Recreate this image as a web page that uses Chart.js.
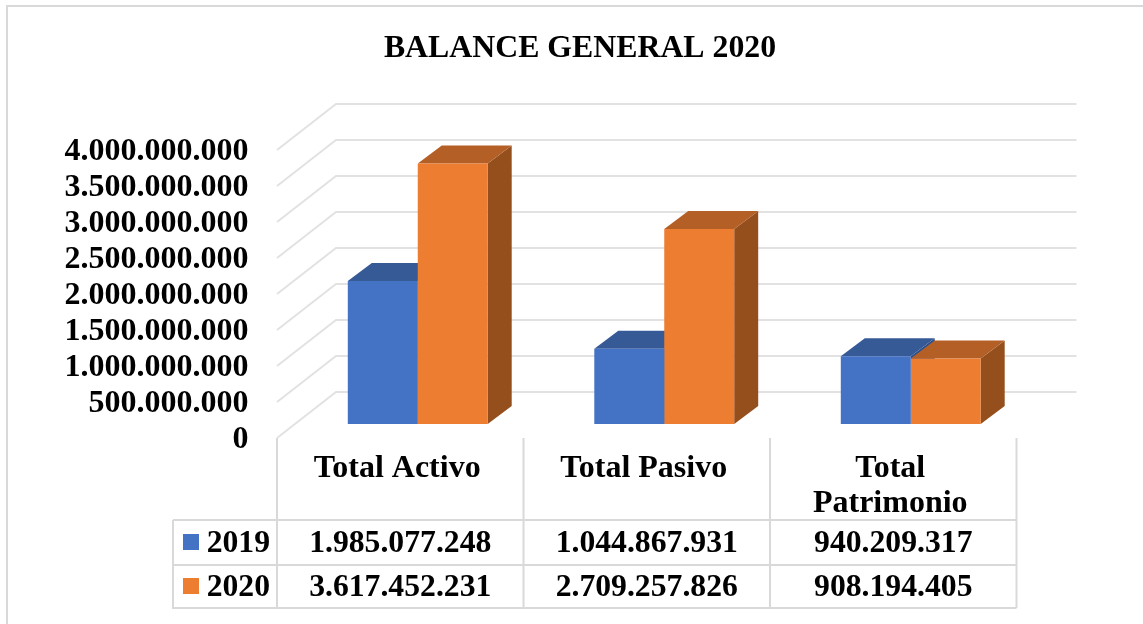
<!DOCTYPE html>
<html><head><meta charset="utf-8">
<style>html,body{margin:0;padding:0;background:#fff}canvas{display:block}</style>
<script src="https://cdn.jsdelivr.net/npm/chart.js@4"></script>
</head><body><canvas id="c" width="1143" height="624"></canvas>
<script>
const titleText = 'BALANCE GENERAL 2020';
const categories = [['Total Activo'], ['Total Pasivo'], ['Total', 'Patrimonio']];
const seriesNames = ['2019', '2020'];
const values2019 = [1985077248, 1044867931, 940209317];
const values2020 = [3617452231, 2709257826, 908194405];
const colors = ['#4472C4', '#ED7D31'];
const topColors = ['#365A96', '#B45F26'];
const sideColors = ['#2C4F8C', '#954F1D'];
const FONT = '"Liberation Serif","Times New Roman",serif';
const fmt = v => String(v).replace(/\B(?=(\d{3})+(?!\d))/g, '.');
const GRID = '#e2e2e2', TABLE = '#d9d9d9';
// projection of the 3D box
const wallDx = 59, wallDy = -46, barDx = 24, barDy = -18, frontDx = -17.5, frontDy = 14;
const y0 = 438;

function shift(obj, method, dx, dy) {
  if (obj['_w' + method]) return;
  obj['_w' + method] = true;
  const orig = obj[method];
  obj[method] = function (...a) {
    const c = this.ctx; c.save(); c.translate(dx, dy);
    const r = orig.apply(this, a); c.restore(); return r;
  };
}
const box3d = {
  id: 'box3d',
  beforeDraw(chart) {
    const { ctx } = chart;
    shift(chart.scales.y, 'drawLabels', 0, frontDy + 1.5);
    shift(chart.scales.x, 'drawLabels', frontDx - 3, 0);
    shift(chart.titleBlock, 'draw', 63, 3);
    ctx.save();
    ctx.strokeStyle = TABLE; ctx.lineWidth = 2;
    ctx.beginPath(); ctx.moveTo(7, 624); ctx.lineTo(7, 6); ctx.lineTo(1143, 6); ctx.stroke();
    ctx.restore();
  },
  beforeDatasetsDraw(chart) {
    const { ctx, chartArea, scales } = chart;
    const y = scales.y;
    ctx.save();
    ctx.strokeStyle = GRID; ctx.lineWidth = 2;
    y.ticks.forEach(t => {
      const py = y.getPixelForValue(t.value) + frontDy;
      const left = chartArea.left + frontDx;
      ctx.beginPath();
      ctx.moveTo(left, py);
      ctx.lineTo(left + wallDx, py + wallDy);
      ctx.lineTo(chartArea.right + frontDx + wallDx + 1, py + wallDy);
      ctx.stroke();
    });
    chart.data.datasets.forEach((ds, di) => {
      chart.getDatasetMeta(di).data.forEach(b => {
        const l = b.x - b.width / 2, r = b.x + b.width / 2, t = b.y, bt = b.base;
        ctx.fillStyle = sideColors[di];
        ctx.beginPath();
        ctx.moveTo(r, t); ctx.lineTo(r + barDx, t + barDy); ctx.lineTo(r + barDx, bt + barDy); ctx.lineTo(r, bt);
        ctx.closePath(); ctx.fill();
        ctx.fillStyle = topColors[di];
        ctx.beginPath();
        ctx.moveTo(l, t); ctx.lineTo(l + barDx, t + barDy); ctx.lineTo(r + barDx, t + barDy); ctx.lineTo(r, t);
        ctx.closePath(); ctx.fill();
      });
    });
    ctx.restore();
  },
  afterDraw(chart) {
    const { ctx, chartArea, scales } = chart;
    const x = scales.x;
    const L = chartArea.left + frontDx, R = chartArea.right + frontDx;
    const w = (R - L) / categories.length;
    const rows = [520, 565, 608], tl = 173;
    ctx.save();
    ctx.strokeStyle = TABLE; ctx.lineWidth = 2;
    ctx.beginPath();
    for (let i = 0; i <= categories.length; i++) {
      const vx = L + i * w;
      ctx.moveTo(vx, y0); ctx.lineTo(vx, rows[2]);
    }
    rows.forEach(r => { ctx.moveTo(tl, r); ctx.lineTo(R, r); });
    ctx.moveTo(tl, rows[0]); ctx.lineTo(tl, rows[2] + 1);
    ctx.stroke();
    ctx.font = 'bold 31.7px ' + FONT;
    ctx.textBaseline = 'middle';
    [values2019, values2020].forEach((vals, di) => {
      const cy = di === 0 ? 542 : 586;
      ctx.fillStyle = colors[di];
      ctx.fillRect(183, cy - 8, 16, 16);
      ctx.fillStyle = '#000';
      ctx.textAlign = 'right';
      ctx.fillText(seriesNames[di], 270, cy + 1.5);
      ctx.textAlign = 'center';
      vals.forEach((v, i) => ctx.fillText(fmt(v), x.getPixelForTick(i) + frontDx, cy + 1.5));
    });
    ctx.restore();
  }
};
new Chart(document.getElementById('c'), {
  type: 'bar',
  data: {
    labels: categories,
    datasets: [
      { label: seriesNames[0], data: values2019, backgroundColor: colors[0] },
      { label: seriesNames[1], data: values2020, backgroundColor: colors[1] }
    ]
  },
  plugins: [box3d],
  options: {
    responsive: false,
    animation: false,
    layout: { padding: { left: 0, top: 0, bottom: 0, right: 109 } },
    datasets: { bar: { categoryPercentage: 0.5676, barPercentage: 1, borderWidth: 0 } },
    plugins: {
      legend: { display: false },
      tooltip: { enabled: false },
      title: {
        display: true, text: titleText, color: '#000',
        font: { family: FONT, size: 31.8, weight: 'bold', lineHeight: 1.2 },
        padding: { top: 27, bottom: 70.84 }
      }
    },
    scales: {
      x: {
        grid: { display: false }, border: { display: false },
        ticks: { color: '#000', padding: 19, maxRotation: 0, minRotation: 0, autoSkip: false,
          font: { family: FONT, size: 32, weight: 'bold', lineHeight: 1.09 } },
        afterFit(s) { s.height = 200; }
      },
      y: {
        min: 0, max: 4000000000,
        grid: { display: false }, border: { display: false },
        ticks: { stepSize: 500000000, autoSkip: false, color: '#000', padding: 38, callback: v => fmt(v),
          font: { family: FONT, size: 32, weight: 'bold', lineHeight: 1.0 } },
        afterFit(s) { s.width = 294.5; }
      }
    }
  }
});
</script></body></html>
